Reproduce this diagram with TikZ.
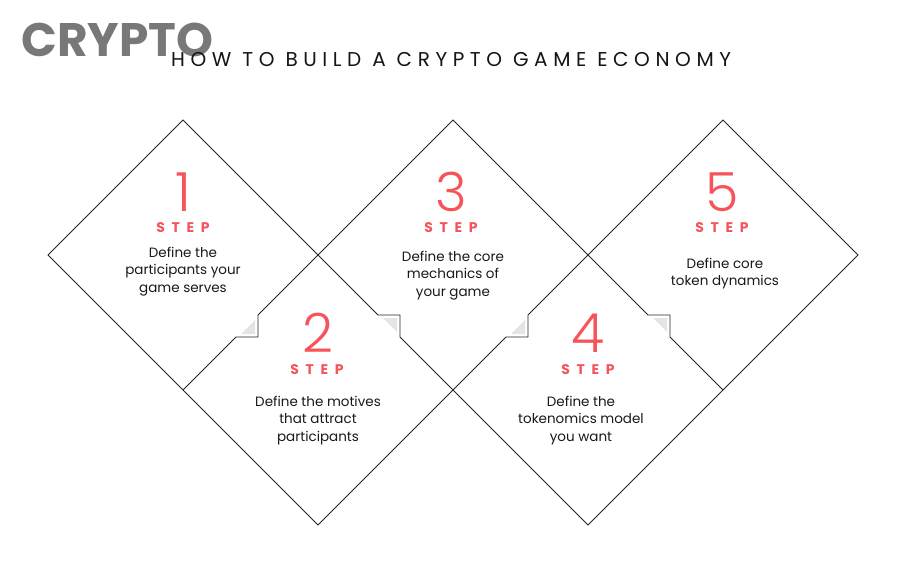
\documentclass[tikz,border=0pt]{standalone}
\usepackage{fontspec}
\usetikzlibrary{calc}
\setmainfont{Poppins}
\newfontfamily\numfont{Poppins Light}
\newfontfamily\titlefont[LetterSpace=28]{Poppins}
\newfontfamily\stepfont[LetterSpace=48]{Poppins}
\definecolor{accent}{RGB}{245,85,90}
\definecolor{logogray}{RGB}{120,120,120}
\definecolor{foldgray}{RGB}{228,228,228}
\begin{document}
\begin{tikzpicture}[x=1pt,y=-1pt,
  edge/.style={draw=black!85,line width=0.9pt,line join=miter},
  fold/.style={fill=foldgray,draw=none},
  num/.style={anchor=base,text=accent,font=\numfont\fontsize{54}{54}\selectfont,inner sep=0pt,text depth=0pt,text height=38pt},
  steplbl/.style={anchor=base,text=accent,font=\stepfont\bfseries\fontsize{14}{14}\selectfont,inner sep=0pt,text depth=0pt,text height=10pt},
  desc/.style={anchor=base,align=center,text=black!90,font=\fontsize{13.5}{17.2}\selectfont,inner sep=0pt}]
\useasboundingbox (0,0) rectangle (900,572);
\fill[white] (0,0) rectangle (900,572);
% vertices
\coordinate (L1) at (48,255);
\coordinate (T1) at (183,120);
\coordinate (T2) at (318,255);
\coordinate (T3) at (453,120);
\coordinate (T4) at (588,255);
\coordinate (T5) at (723,120);
\coordinate (R5) at (858,255);
\coordinate (R4) at (723,390);
\coordinate (B4) at (588,525);
\coordinate (R2) at (453,390);
\coordinate (B2) at (318,525);
\coordinate (L2) at (183,390);
% outer outline
\draw[edge] (L1) -- (T1) -- (T2) -- (T3) -- (T4) -- (T5) -- (R5) -- (R4) -- (B4) -- (R2) -- (B2) -- (L2) -- cycle;
% fold triangles
\fill[fold] ($(T2)+(-63,65)$) -- ($(T2)+(-63,79)$) -- ($(T2)+(-77,79)$) -- cycle;
\fill[fold] ($(T2)+(65,63)$) -- ($(T2)+(79,63)$) -- ($(T2)+(79,77)$) -- cycle;
\fill[fold] ($(T4)+(-63,65)$) -- ($(T4)+(-63,79)$) -- ($(T4)+(-77,79)$) -- cycle;
\fill[fold] ($(T4)+(65,63)$) -- ($(T4)+(79,63)$) -- ($(T4)+(79,77)$) -- cycle;
% shared notched edges
\draw[edge] (T2) -- ++(-60,60) -- ++(0,22) -- ++(-22,0) -- (L2);
\draw[edge] (T2) -- ++(60,60) -- ++(22,0) -- ++(0,22) -- (R2);
\draw[edge] (T4) -- ++(-60,60) -- ++(0,22) -- ++(-22,0) -- (R2);
\draw[edge] (T4) -- ++(60,60) -- ++(22,0) -- ++(0,22) -- (R4);
% logo and title
\node[anchor=base west,inner sep=0pt,text=logogray,font=\bfseries\fontsize{47}{47}\selectfont] (logo) at (21,57) {CRYPTO};
\node[anchor=base west,inner sep=0pt,text=black!92,font=\titlefont\fontsize{20}{20}\selectfont] (title) at (171,67) {HOW TO BUILD A CRYPTO GAME ECONOMY};
% step 1
\node[num] (n1) at (183,212) {1};
\node[steplbl] (s1) at (183,233) {STEP};
\node[desc] (d1) at (183,292) {Define the\\participants your\\game serves};
% step 3
\node[num] (n3) at (451,212) {3};
\node[steplbl] (s3) at (451,233) {STEP};
\node[desc] (d3) at (453,296) {Define the core\\mechanics of\\your game};
% step 5
\node[num] (n5) at (722,212) {5};
\node[steplbl] (s5) at (722,233) {STEP};
\node[desc] (d5) at (725,286) {Define core\\token dynamics};
% step 2
\node[num] (n2) at (318,352) {2};
\node[steplbl] (s2) at (317,374) {STEP};
\node[desc] (d2) at (318,441) {Define the motives\\that attract\\participants};
% step 4
\node[num] (n4) at (588,352) {4};
\node[steplbl] (s4) at (588,374) {STEP};
\node[desc] (d4) at (581,441) {Define the\\tokenomics model\\you want};
\end{tikzpicture}
\end{document}
